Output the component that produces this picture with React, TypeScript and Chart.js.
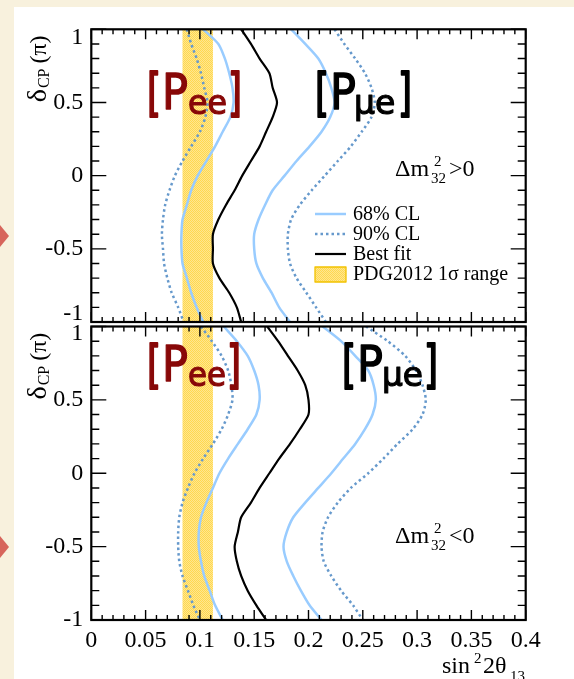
import React, { useEffect, useRef } from 'react';
import { Chart, registerables } from 'chart.js';

Chart.register(...registerables);

// δCP values (in units of π) at which each contour is sampled
const DELTA_CP = [1.0, 0.9, 0.8, 0.7, 0.6, 0.5, 0.4, 0.3, 0.2, 0.1, 0.0, -0.1, -0.2, -0.3, -0.4, -0.5, -0.6, -0.7, -0.8, -0.9, -1.0];

// Δm²32 > 0 (upper panel): sin²2θ13 values
const NH_BEST = [0.138, 0.147, 0.155, 0.164, 0.167, 0.171, 0.167, 0.161, 0.155, 0.147, 0.139, 0.132, 0.124, 0.117, 0.112, 0.112, 0.112, 0.118, 0.127, 0.134, 0.138];
const NH_68_LOW = [0.103, 0.117, 0.123, 0.127, 0.130, 0.131, 0.128, 0.121, 0.114, 0.106, 0.098, 0.092, 0.088, 0.084, 0.083, 0.083, 0.084, 0.088, 0.092, 0.097, 0.103];
const NH_68_HIGH = [0.184, 0.197, 0.209, 0.216, 0.221, 0.224, 0.220, 0.212, 0.201, 0.189, 0.178, 0.167, 0.160, 0.154, 0.150, 0.150, 0.152, 0.158, 0.166, 0.173, 0.183];
const NH_90_LOW = [0.088, 0.092, 0.097, 0.101, 0.104, 0.107, 0.105, 0.100, 0.092, 0.084, 0.077, 0.072, 0.068, 0.066, 0.065, 0.066, 0.067, 0.070, 0.074, 0.080, 0.085];
const NH_90_HIGH = [0.224, 0.233, 0.243, 0.252, 0.258, 0.261, 0.258, 0.249, 0.239, 0.227, 0.215, 0.203, 0.192, 0.184, 0.181, 0.181, 0.183, 0.189, 0.198, 0.207, 0.216];

// Δm²32 < 0 (lower panel)
const IH_BEST = [0.162, 0.172, 0.181, 0.190, 0.197, 0.200, 0.200, 0.192, 0.183, 0.173, 0.164, 0.155, 0.147, 0.138, 0.135, 0.132, 0.134, 0.138, 0.144, 0.152, 0.161];
const IH_68_LOW = [0.122, 0.134, 0.144, 0.150, 0.154, 0.155, 0.152, 0.144, 0.135, 0.126, 0.118, 0.112, 0.106, 0.101, 0.099, 0.099, 0.101, 0.104, 0.109, 0.114, 0.121];
const IH_68_HIGH = [0.213, 0.230, 0.243, 0.255, 0.260, 0.262, 0.259, 0.252, 0.243, 0.232, 0.221, 0.209, 0.197, 0.186, 0.180, 0.177, 0.180, 0.186, 0.193, 0.201, 0.212];
const IH_90_LOW = [0.101, 0.111, 0.120, 0.126, 0.129, 0.130, 0.126, 0.120, 0.112, 0.103, 0.095, 0.089, 0.084, 0.081, 0.080, 0.080, 0.081, 0.084, 0.089, 0.094, 0.100];
const IH_90_HIGH = [0.253, 0.273, 0.289, 0.299, 0.305, 0.308, 0.305, 0.296, 0.282, 0.269, 0.255, 0.239, 0.227, 0.218, 0.213, 0.212, 0.214, 0.221, 0.230, 0.241, 0.250];

// PDG2012 1σ range of sin²2θ13
const PDG2012_RANGE = [0.084, 0.112];

const LEGEND_LABELS = ['68% CL', '90% CL', 'Best fit', 'PDG2012 1\u03c3 range'];

const COL_68 = '#99ccff';
const COL_90 = '#6699cc';
const COL_BEST = '#000000';
const SERIF = '"Liberation Serif", "Times New Roman", serif';
const HAND = '"DejaVu Sans", sans-serif';
const PEE_RED = '#880808';

const W = 574;
const PLOT_LEFT = 91.3;
const PLOT_RIGHT = 525.7;

type Piece = { t: string; x: number; y: number; size: number; w?: number; family?: string; color?: string; stroke?: number };

function pts(xs: number[]) {
  return xs.map((x, i) => ({ x, y: DELTA_CP[i] }));
}

let patternCache: CanvasPattern | null = null;
function bandPattern(ctx: CanvasRenderingContext2D) {
  if (patternCache) return patternCache;
  const c = document.createElement('canvas');
  c.width = 2;
  c.height = 2;
  const p = c.getContext('2d')!;
  p.fillStyle = '#ffd84f';
  p.fillRect(0, 0, 2, 2);
  p.fillStyle = '#ffe68f';
  p.fillRect(1, 0, 1, 1);
  p.fillRect(0, 1, 1, 1);
  patternCache = ctx.createPattern(c, 'repeat');
  return patternCache!;
}

function drawPieces(ctx: CanvasRenderingContext2D, pieces: Piece[], dy: number) {
  for (const p of pieces) {
    ctx.font = `${p.size}px ${p.family || SERIF}`;
    ctx.fillStyle = p.color || '#000';
    ctx.textAlign = 'left';
    ctx.textBaseline = 'alphabetic';
    if (p.w) ctx.fillText(p.t, p.x, p.y - dy, p.w);
    else ctx.fillText(p.t, p.x, p.y - dy);
    if (p.stroke) {
      ctx.strokeStyle = p.color || '#000';
      ctx.lineWidth = p.stroke;
      ctx.lineJoin = 'round';
      if (p.w) ctx.strokeText(p.t, p.x, p.y - dy, p.w);
      else ctx.strokeText(p.t, p.x, p.y - dy);
    }
  }
}

function bracketLabel(x: number[], base: number, sub: string, color: string): Piece[] {
  return [
    { t: '[', x: x[0], y: base + 1, size: 52, w: 14, family: HAND, color, stroke: 2.2 },
    { t: 'P', x: x[1], y: base, size: 50, w: 26, family: HAND, color, stroke: 1.4 },
    { t: sub, x: x[2], y: base + 5, size: 33, w: x[3] - x[2] - 1, family: HAND, color, stroke: 1.2 },
    { t: ']', x: x[3], y: base + 1, size: 52, w: 14, family: HAND, color, stroke: 2.2 },
  ];
}

type PanelCfg = {
  top: number;
  height: number;
  padTop: number;
  padBottom: number;
  xAxisHeight: number;
  showX: boolean;
  best: number[];
  l68: number[];
  h68: number[];
  l90: number[];
  h90: number[];
  labelShift: Record<string, number>;
  texts: Piece[];
  legend: boolean;
};

function makeDecor(cfg: PanelCfg) {
  return {
    id: 'decor',
    beforeDatasetsDraw(chart: any) {
      const { ctx, chartArea: a, scales } = chart;
      const x0 = scales.x.getPixelForValue(PDG2012_RANGE[0]);
      const x1 = scales.x.getPixelForValue(PDG2012_RANGE[1]);
      ctx.save();
      ctx.fillStyle = bandPattern(ctx);
      ctx.fillRect(x0, a.top, x1 - x0, a.bottom - a.top);
      ctx.restore();
    },
    afterDraw(chart: any) {
      const { ctx, chartArea: a, scales } = chart;
      const xs = scales.x;
      const ys = scales.y;
      ctx.save();
      // minor / major ticks, drawn inward on all four sides
      ctx.strokeStyle = '#000';
      ctx.lineWidth = 1.4;
      ctx.beginPath();
      for (let i = -10; i <= 10; i++) {
        const py = ys.getPixelForValue(i / 10);
        const len = i % 5 === 0 ? 15 : 8;
        ctx.moveTo(a.left, py);
        ctx.lineTo(a.left + len, py);
        ctx.moveTo(a.right, py);
        ctx.lineTo(a.right - len, py);
      }
      for (let i = 0; i <= 40; i++) {
        const px = xs.getPixelForValue(i / 100);
        const len = i % 5 === 0 ? 10 : 5;
        ctx.moveTo(px, a.bottom);
        ctx.lineTo(px, a.bottom - len);
        ctx.moveTo(px, a.top);
        ctx.lineTo(px, a.top + len);
      }
      ctx.stroke();
      // frame
      ctx.lineWidth = 2.2;
      ctx.strokeRect(a.left, a.top, a.right - a.left, a.bottom - a.top);

      // y tick labels
      ctx.font = `24px ${SERIF}`;
      ctx.fillStyle = '#000';
      ctx.textAlign = 'right';
      ctx.textBaseline = 'middle';
      for (const t of ys.ticks) {
        const v = t.value;
        const lab = Math.abs(v) < 1e-9 ? '0' : String(Number(v.toFixed(2)));
        const shift = cfg.labelShift[lab] || 0;
        ctx.fillText(lab, a.left - 8, ys.getPixelForValue(v) + shift);
      }

      // y title  δCP (π), rotated
      ctx.save();
      ctx.translate(46, a.top + 73);
      ctx.rotate(-Math.PI / 2);
      ctx.textAlign = 'left';
      ctx.textBaseline = 'alphabetic';
      ctx.font = `28px ${SERIF}`;
      ctx.fillText('\u03b4', 0, 0);
      let cx = ctx.measureText('\u03b4').width + 1;
      ctx.font = `16px ${SERIF}`;
      ctx.fillText('CP', cx, 3);
      cx += ctx.measureText('CP').width + 5;
      ctx.font = `24px ${SERIF}`;
      ctx.fillText('(\u03c0)', cx, 0);
      ctx.restore();

      drawPieces(ctx, cfg.texts, cfg.top);

      if (cfg.legend) {
        const rows = [214, 234, 254, 274].map((y) => y - cfg.top);
        const sx0 = 315;
        const sx1 = 346;
        ctx.lineCap = 'butt';
        ctx.strokeStyle = COL_68;
        ctx.lineWidth = 2.5;
        ctx.setLineDash([]);
        ctx.beginPath();
        ctx.moveTo(sx0, rows[0]);
        ctx.lineTo(sx1, rows[0]);
        ctx.stroke();
        ctx.strokeStyle = COL_90;
        ctx.setLineDash([2.5, 3]);
        ctx.beginPath();
        ctx.moveTo(sx0, rows[1]);
        ctx.lineTo(sx1, rows[1]);
        ctx.stroke();
        ctx.setLineDash([]);
        ctx.strokeStyle = COL_BEST;
        ctx.lineWidth = 2.2;
        ctx.beginPath();
        ctx.moveTo(sx0, rows[2]);
        ctx.lineTo(sx1, rows[2]);
        ctx.stroke();
        ctx.fillStyle = bandPattern(ctx);
        ctx.fillRect(sx0, rows[3] - 7, sx1 - sx0, 15);
        ctx.strokeStyle = '#f2c200';
        ctx.lineWidth = 1.3;
        ctx.strokeRect(sx0, rows[3] - 7, sx1 - sx0, 15);

        ctx.fillStyle = '#000';
        ctx.font = `20px ${SERIF}`;
        ctx.textAlign = 'left';
        ctx.textBaseline = 'middle';
        LEGEND_LABELS.forEach((l, i) => ctx.fillText(l, 353, rows[i] + 1));
      }
      ctx.restore();
    },
  };
}

function Panel({ cfg }: { cfg: PanelCfg }) {
  const ref = useRef<HTMLCanvasElement>(null);
  useEffect(() => {
    const line = (xs: number[], color: string, dotted: boolean, width: number) => ({
      data: pts(xs),
      showLine: true,
      borderColor: color,
      backgroundColor: color,
      borderWidth: width,
      borderDash: dotted ? [2.5, 3] : [],
      borderCapStyle: 'butt',
      pointRadius: 0,
      tension: 0.25,
      fill: false,
    });
    const chart = new Chart(ref.current!, {
      type: 'scatter',
      data: {
        datasets: [
          line(cfg.l90, COL_90, true, 2.5),
          line(cfg.h90, COL_90, true, 2.5),
          line(cfg.l68, COL_68, false, 2.5),
          line(cfg.h68, COL_68, false, 2.5),
          line(cfg.best, COL_BEST, false, 2.2),
        ] as any,
      },
      options: {
        animation: false,
        responsive: false,
        maintainAspectRatio: false,
        events: [],
        layout: { padding: { top: cfg.padTop, right: W - PLOT_RIGHT, bottom: cfg.padBottom, left: 0 } },
        plugins: { legend: { display: false }, tooltip: { enabled: false } },
        scales: {
          x: {
            type: 'linear',
            position: 'bottom',
            min: 0,
            max: 0.4,
            afterFit: (s: any) => {
              s.height = cfg.xAxisHeight;
            },
            grid: { display: false, drawTicks: false },
            border: { display: false },
            ticks: {
              display: cfg.showX,
              stepSize: 0.05,
              autoSkip: false,
              maxRotation: 0,
              padding: 6,
              color: '#000',
              font: { family: SERIF, size: 24 },
              callback: (v: any) => (Math.abs(v) < 1e-9 ? '0' : String(Number(Number(v).toFixed(2)))),
            },
          },
          y: {
            type: 'linear',
            min: -1,
            max: 1,
            afterFit: (s: any) => {
              s.width = PLOT_LEFT;
            },
            grid: { display: false, drawTicks: false },
            border: { display: false },
            ticks: { display: false, stepSize: 0.5 },
          },
        },
      } as any,
      plugins: [makeDecor(cfg)],
    });
    return () => chart.destroy();
  }, []);
  return (
    <canvas
      ref={ref}
      width={W}
      height={cfg.height}
      style={{ position: 'absolute', left: 0, top: cfg.top, width: W, height: cfg.height }}
    />
  );
}

const TOP_CFG: PanelCfg = {
  top: 0,
  height: 324,
  padTop: 29.3,
  padBottom: 2,
  xAxisHeight: 0,
  showX: false,
  best: NH_BEST,
  l68: NH_68_LOW,
  h68: NH_68_HIGH,
  l90: NH_90_LOW,
  h90: NH_90_HIGH,
  labelShift: { '1': 8, '-1': -8 },
  legend: true,
  texts: [
    ...bracketLabel([147, 162, 188, 228], 109, 'ee', PEE_RED),
    ...bracketLabel([315, 330, 354, 398], 109, '\u03bce', '#000'),
    { t: '\u0394m', x: 395, y: 176, size: 24 },
    { t: '2', x: 434, y: 166, size: 15 },
    { t: '32', x: 431, y: 183, size: 15 },
    { t: '>0', x: 449, y: 176, size: 24 },
  ],
};

const BOTTOM_CFG: PanelCfg = {
  top: 324,
  height: 355,
  padTop: 2.5,
  padBottom: 0,
  xAxisHeight: 59,
  showX: true,
  best: IH_BEST,
  l68: IH_68_LOW,
  h68: IH_68_HIGH,
  l90: IH_90_LOW,
  h90: IH_90_HIGH,
  labelShift: { '1': 7 },
  legend: false,
  texts: [
    ...bracketLabel([147, 162, 188, 227], 381, 'ee', PEE_RED),
    ...bracketLabel([342, 357, 382, 424], 381, '\u03bce', '#000'),
    { t: '\u0394m', x: 395, y: 543, size: 24 },
    { t: '2', x: 434, y: 533, size: 15 },
    { t: '32', x: 431, y: 550, size: 15 },
    { t: '<0', x: 449, y: 543, size: 24 },
    { t: 'sin', x: 442, y: 673, size: 24 },
    { t: '2', x: 474, y: 663, size: 15 },
    { t: '2\u03b8', x: 483, y: 673, size: 24 },
    { t: '13', x: 510, y: 681, size: 15 },
  ],
};

const arrow = (top: number): React.CSSProperties => ({
  position: 'absolute',
  left: 0,
  top,
  width: 0,
  height: 0,
  borderTop: '11px solid transparent',
  borderBottom: '11px solid transparent',
  borderLeft: '9px solid #d7655b',
});

export default function App() {
  return (
    <div
      style={{
        position: 'absolute',
        left: 0,
        top: 0,
        width: W,
        height: 679,
        background: '#f8f1dd',
        overflow: 'hidden',
      }}
    >
      <div style={{ position: 'absolute', left: 14, top: 7, width: 560, height: 672, background: '#fff' }} />
      <div style={arrow(225)} />
      <div style={arrow(536)} />
      <Panel cfg={TOP_CFG} />
      <Panel cfg={BOTTOM_CFG} />
    </div>
  );
}
